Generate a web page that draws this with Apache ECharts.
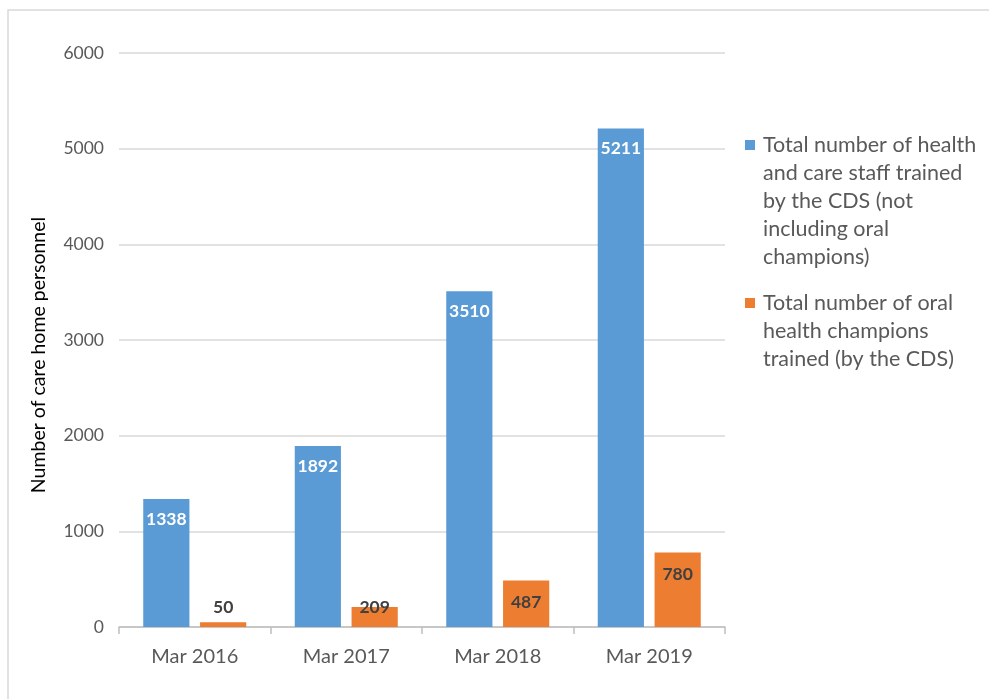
<!DOCTYPE html>
<html>
<head>
<meta charset="utf-8">
<script src="https://cdn.jsdelivr.net/npm/echarts@6/dist/echarts.min.js"></script>
<style>
html,body{margin:0;padding:0;background:#fff;}
#chart{width:989px;height:699px;}
</style>
</head>
<body>
<div id="chart"></div>
<script>
const categories = ['Mar 2016', 'Mar 2017', 'Mar 2018', 'Mar 2019'];
const staffValues = [1338, 1892, 3510, 5211];
const championValues = [50, 209, 487, 780];
const staffName = 'Total number of health and care staff trained by the CDS (not including oral champions)';
const championName = 'Total number of oral health champions trained (by the CDS)';
const staffLegendLines = ['Total number of health', 'and care staff trained', 'by the CDS (not', 'including oral', 'champions)'];
const championLegendLines = ['Total number of oral', 'health champions', 'trained (by the CDS)'];

const FONT = 'Lato';
const chart = echarts.init(document.getElementById('chart'), null, {renderer: 'canvas'});

function legendText(lines, key) {
  return lines.map((l, i) => (i === 0 ? '{' + key + '|}' : '{pad|}') + '{t|' + l + '}').join('\n');
}

const championData = championValues.map(v => {
  if (v < 100) return {value: v, label: {position: 'top', distance: 6}};
  if (v < 300) return {value: v, label: {position: 'top', distance: -9}};
  return {value: v};
});

chart.setOption({
  animation: false,
  textStyle: {fontFamily: FONT},
  graphic: [{
    type: 'rect', silent: true,
    shape: {x: 8, y: 10, width: 1200, height: 1200},
    style: {fill: 'none', stroke: '#d9d9d9', lineWidth: 1.5}
  }],
  grid: {left: 119, right: 264, top: 53, bottom: 72},
  legend: {
    orient: 'vertical',
    left: 735, top: 129,
    itemWidth: 0, itemHeight: 0,
    itemGap: 24,
    icon: 'rect',
    selectedMode: false,
    data: [staffName, championName],
    formatter: function (name) {
      return name === staffName ? legendText(staffLegendLines, 'sb') : legendText(championLegendLines, 'so');
    },
    textStyle: {
      rich: {
        sb: {width: 10, height: 10, backgroundColor: '#5b9bd5'},
        so: {width: 10, height: 10, backgroundColor: '#ed7d31'},
        pad: {width: 10},
        t: {fontFamily: FONT, fontSize: 21.5, color: '#595959', lineHeight: 28, padding: [0, 0, 0, 8]}
      }
    }
  },
  xAxis: {
    type: 'category',
    data: categories,
    axisLine: {lineStyle: {color: '#bfbfbf', width: 1.5}},
    axisTick: {show: true, length: 7, lineStyle: {color: '#bfbfbf', width: 1.5}},
    axisLabel: {color: '#595959', fontSize: 20, margin: 20, fontFamily: FONT}
  },
  yAxis: {
    type: 'value',
    min: 0, max: 6000, interval: 1000,
    name: 'Number of care home personnel',
    nameLocation: 'middle',
    nameGap: 70,
    nameTextStyle: {color: '#000', fontSize: 19.5, fontFamily: FONT, padding: [0, 30, 0, 0]},
    axisLine: {show: false},
    axisTick: {show: false},
    axisLabel: {color: '#595959', fontSize: 17.5, margin: 15, fontFamily: FONT, formatter: v => String(v)},
    splitLine: {lineStyle: {color: '#d9d9d9', width: 1.5}}
  },
  series: [{
    name: staffName,
    type: 'bar',
    data: staffValues,
    barGap: '23%',
    barCategoryGap: '32%',
    itemStyle: {color: '#5b9bd5'},
    label: {show: true, position: 'insideTop', distance: 11, color: '#fff', fontWeight: 'bold', fontSize: 17.5, fontFamily: FONT}
  }, {
    name: championName,
    type: 'bar',
    data: championData,
    itemStyle: {color: '#ed7d31'},
    label: {show: true, position: 'insideTop', distance: 13, color: '#404040', fontWeight: 'bold', fontSize: 17.5, fontFamily: FONT}
  }]
});
</script>
</body>
</html>
